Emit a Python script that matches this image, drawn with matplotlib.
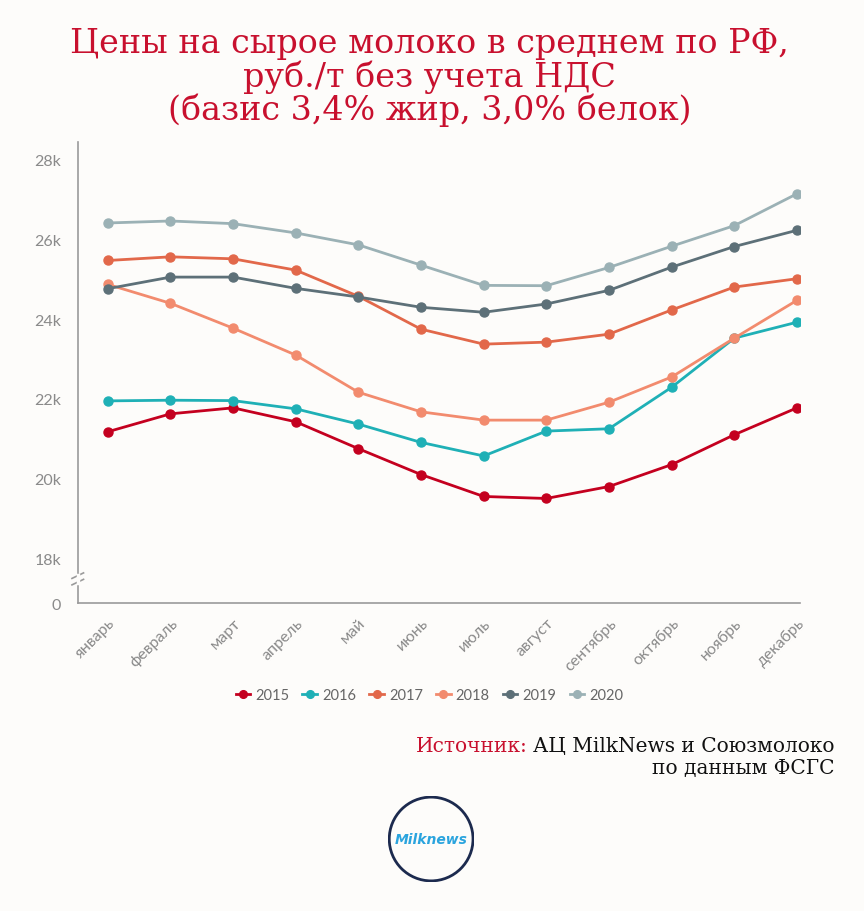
import numpy as np
import matplotlib.pyplot as plt
from matplotlib.patches import Circle

months = ['январь', 'февраль', 'март', 'апрель', 'май', 'июнь', 'июль',
          'август', 'сентябрь', 'октябрь', 'ноябрь', 'декабрь']
years = ['2015', '2016', '2017', '2018', '2019', '2020']

p2015 = [21175, 21625, 21775, 21425, 20750, 20100, 19550, 19500, 19800, 20350, 21100, 21775]
p2016 = [21950, 21967, 21957, 21750, 21367, 20907, 20567, 21192, 21250, 22292, 23525, 23925]
p2017 = [25475, 25567, 25517, 25233, 24575, 23750, 23375, 23425, 23625, 24233, 24808, 25017]
p2018 = [24875, 24400, 23775, 23100, 22167, 21675, 21467, 21467, 21917, 22550, 23525, 24475]
p2019 = [24767, 25058, 25058, 24775, 24558, 24300, 24175, 24383, 24725, 25308, 25825, 26233]
p2020 = [26417, 26467, 26400, 26167, 25867, 25358, 24850, 24842, 25300, 25833, 26350, 27150]

colors = ['#c4001f', '#1fb0b6', '#e2684a', '#f28b6e', '#5d7078', '#9bb1b5']

# broken axis: "0" is drawn just below 18k
ZERO_POS = 16875
ytick_vals = [ZERO_POS, 18000, 20000, 22000, 24000, 26000, 28000]
ytick_labels = ['0', '18k', '20k', '22k', '24k', '26k', '28k']

BG = '#fdfcfa'
GRAY = '#8a8a8a'

fig = plt.figure(figsize=(8.64, 9.12), dpi=100, facecolor=BG)
ax = fig.add_axes([0.09, 0.3377, 0.836, 0.5055])
ax.set_facecolor(BG)

x = np.arange(len(months))
for yr, vals, c in zip(years, [p2015, p2016, p2017, p2018, p2019, p2020], colors):
    ax.plot(x, vals, color=c, lw=2, marker='o', ms=6.5, label=yr)

ax.set_xlim(-0.48, 11.05)
ax.set_ylim(ZERO_POS, 28450)
ax.set_yticks(ytick_vals)
ax.set_yticklabels(ytick_labels)
ax.set_xticks(x)
ax.set_xticklabels(months, rotation=45, ha='right', rotation_mode='anchor')
ax.tick_params(length=0, colors=GRAY, labelsize=11.5)
ax.tick_params(axis='y', pad=12)
ax.tick_params(axis='x', pad=9)
for lab in ax.get_xticklabels() + ax.get_yticklabels():
    lab.set_family('Lato')
for s in ['top', 'right']:
    ax.spines[s].set_visible(False)
for s in ['left', 'bottom']:
    ax.spines[s].set_color('#9a9a9a')
    ax.spines[s].set_linewidth(1.2)

# break marks on the y axis
yb = (17400 - ZERO_POS) / (28450 - ZERO_POS)
for dy in [0, 0.014]:
    ax.plot([-0.008, 0.008], [yb + dy - 0.006, yb + dy + 0.006], transform=ax.transAxes,
            color='#9a9a9a', lw=1.2, clip_on=False)
ax.plot([0, 0], [yb - 0.002, yb + 0.016], transform=ax.transAxes, color=BG, lw=2.5,
        clip_on=False, zorder=3)

leg = fig.legend(loc='center', bbox_to_anchor=(0.497, 0.237), ncol=6, frameon=False,
                 fontsize=10.5, handlelength=1.0, handletextpad=0.35, columnspacing=0.9,
                 markerscale=0.85)
for t in leg.get_texts():
    t.set_color('#666666')
    t.set_family('Lato')

fig.text(0.497, 0.9145, 'Цены на сырое молоко в среднем по РФ,\nруб./т без учета НДС\n(базис 3,4% жир, 3,0% белок)',
         ha='center', va='center', fontsize=24, color='#c8102e', family='DejaVu Serif',
         linespacing=1.0)

# source note, two colours
fig.canvas.draw()
r = fig.canvas.get_renderer()
src = fig.text(0.966, 0.182, 'АЦ MilkNews и Союзмолоко', ha='right', va='center',
               fontsize=14.5, color='#111111', family='DejaVu Serif')
bb = src.get_window_extent(r)
fig.text(bb.x0 / fig.bbox.width - 0.006, 0.182, 'Источник:', ha='right', va='center',
         fontsize=14.5, color='#c8102e', family='DejaVu Serif')
fig.text(0.966, 0.157, 'по данным ФСГС', ha='right', va='center',
         fontsize=14.5, color='#111111', family='DejaVu Serif')

# logo
lax = fig.add_axes([0.449, 0.0316, 0.1, 0.0947])
lax.set_xlim(-1, 1)
lax.set_ylim(-1, 1)
lax.set_aspect('equal')
lax.axis('off')
lax.add_patch(Circle((0, 0), 0.97, fill=False, ec='#1c2a4e', lw=2))
lax.text(0, 0, 'Milknews', ha='center', va='center', fontsize=10, color='#2aa4de',
         style='italic', weight='bold', family='DejaVu Sans')

fig.savefig('out.png', dpi=100, facecolor=BG)
